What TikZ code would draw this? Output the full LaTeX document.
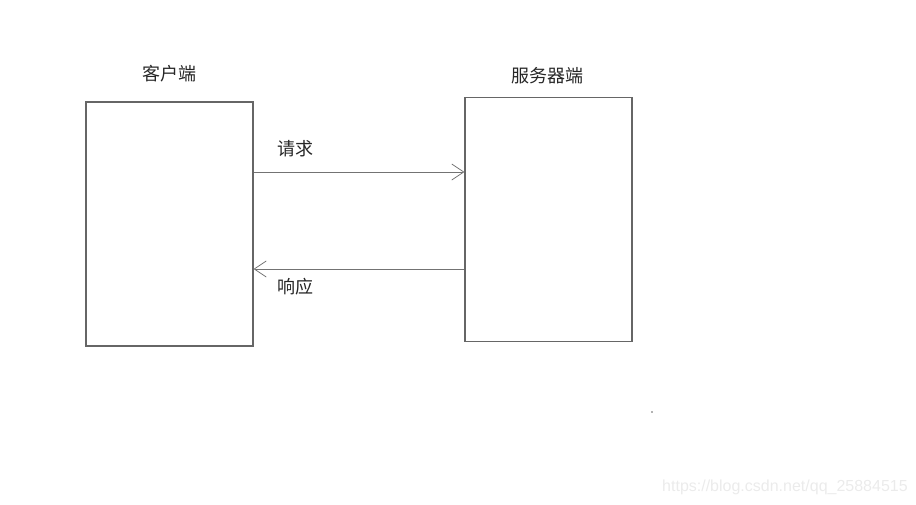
\documentclass[tikz,border=0pt]{standalone}
\usepackage{fontspec}
\newfontfamily\cjk{Noto Sans CJK SC}
\newfontfamily\wmfont{Liberation Sans}
\usetikzlibrary{arrows.meta}

\begin{document}
\begin{tikzpicture}[x=0.75pt, y=-0.75pt,
    box/.style={draw=black!60, line width=0.8pt, minimum width=125.25pt, minimum height=183pt, inner sep=0pt},
    msg/.style={draw=black!55, line width=0.6pt, -{Straight Barb[length=9pt, width=12pt, line width=0.6pt]}},
    lbl/.style={font=\cjk\fontsize{13.5}{15}\selectfont, text=black!85}]
    % Fix the page size
    \useasboundingbox (0,0) rectangle (916,504);

    % Draw the two boxes
    \node[box] (client) at (169.5, 224) {};
    \node[box] (server) at (548.5, 219.5) {};

    % Titles above the boxes
    \node[lbl] (clienttitle) at (169, 74) {客户端};
    \node[lbl] (servertitle) at (547, 76) {服务器端};

    % Request and response
    \draw[msg] (client.east |- 0,172) -- (server.west |- 0,172);
    \draw[msg] (server.west |- 0,269) -- (client.east |- 0,269);
    \node[lbl] (reqlabel) at (295, 149) {请求};
    \node[lbl] (resplabel) at (295, 287) {响应};

    % Stray dot and watermark
    \fill[black!60] (652, 412) circle (0.6pt);
    \node[font=\wmfont\fontsize{12}{14}\selectfont, text=black!8, anchor=east, inner sep=0pt] (mark) at (908, 487) {https://blog.csdn.net/qq\_25884515};
\end{tikzpicture}
\end{document}
